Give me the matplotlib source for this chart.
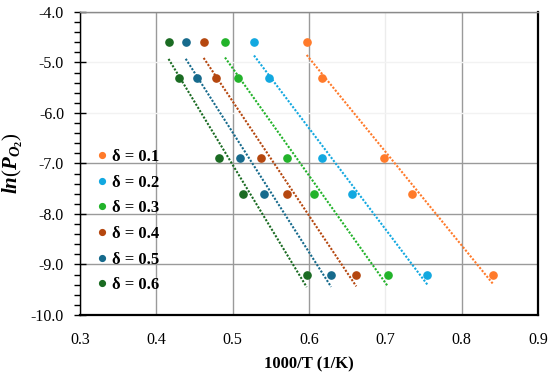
import numpy as np
import matplotlib
matplotlib.use("Agg")
import matplotlib.pyplot as plt
from matplotlib.ticker import MultipleLocator

plt.rcParams['font.family'] = ['Liberation Serif', 'DejaVu Serif']
plt.rcParams['mathtext.fontset'] = 'custom'
plt.rcParams['mathtext.rm'] = 'Liberation Serif'
plt.rcParams['mathtext.it'] = 'Liberation Serif:italic'
plt.rcParams['mathtext.bf'] = 'Liberation Serif:bold'
plt.rcParams['mathtext.bfit'] = 'Liberation Serif:bold:italic'

# Data
ln_po2 = [-4.6, -5.3, -6.9, -7.6, -9.2]
labels = ["δ = 0.1", "δ = 0.2", "δ = 0.3", "δ = 0.4", "δ = 0.5", "δ = 0.6"]
x_d01 = [0.597, 0.617, 0.698, 0.735, 0.841]
x_d02 = [0.528, 0.548, 0.617, 0.657, 0.755]
x_d03 = [0.490, 0.507, 0.571, 0.607, 0.703]
x_d04 = [0.462, 0.478, 0.537, 0.571, 0.662]
x_d05 = [0.4385, 0.453, 0.509, 0.541, 0.629]
x_d06 = [0.416, 0.430, 0.4825, 0.513, 0.597]
series_x = [x_d01, x_d02, x_d03, x_d04, x_d05, x_d06]
colors = ["#FF7A2A", "#12A8E0", "#22B32A", "#B5470F", "#166A8C", "#1A6B22"]

xticks = [0.3, 0.4, 0.5, 0.6, 0.7, 0.8, 0.9]
yticks = [-4.0, -5.0, -6.0, -7.0, -8.0, -9.0, -10.0]

fig = plt.figure(figsize=(5.5, 3.74), dpi=100)
ax = fig.add_axes([0.1455, 0.158, 0.8325, 0.81])

y = np.array(ln_po2)
for xs, c, lab in zip(series_x, colors, labels):
    xs = np.array(xs)
    ax.plot(xs, y, 'o', color=c, ms=5.2, label=lab, zorder=3)
    m, b = np.polyfit(xs, y, 1)
    xl = np.array([xs.min(), xs.max()])
    ax.plot(xl, m * xl + b, linestyle=(0, (1, 0.8)), color=c, lw=1.5, zorder=2)

ax.set_xlim(0.3, 0.9)
ax.set_ylim(-10.0, -4.0)
ax.set_xticks(xticks)
ax.set_xticklabels([f"{v:.1f}" for v in xticks])
ax.set_yticks(yticks)
ax.set_yticklabels([f"{v:.1f}" for v in yticks])
ax.yaxis.set_minor_locator(MultipleLocator(0.2))
ax.tick_params(axis='x', length=0, pad=12, labelsize=11.5)
ax.tick_params(axis='y', which='major', direction='inout', length=9, width=1, pad=7, labelsize=11.5)
ax.tick_params(axis='y', which='minor', direction='out', length=4, width=1)

ax.grid(True, which='major', color='#9a9a9a', lw=1.0, zorder=0)
for gl, v in zip(ax.get_xgridlines(), xticks):
    if abs(v - 0.7) < 1e-9:
        gl.set_color('#ececec')
for gl, v in zip(ax.get_ygridlines(), yticks):
    if v in (-5.0, -6.0):
        gl.set_color('#f2f2f2')
ax.set_axisbelow(True)

ax.spines['top'].set_color('#8a8a8a')
ax.spines['top'].set_linewidth(1.0)
ax.spines['left'].set_linewidth(1.0)
ax.spines['bottom'].set_linewidth(1.6)
ax.spines['right'].set_linewidth(1.6)

ax.set_xlabel("1000/T (1/K)", fontsize=12, fontweight='bold', labelpad=6)
ax.set_ylabel(r"$\mathbfit{ln}(\mathbfit{P}_{\mathbfit{O}_{\mathbf{2}}})$", fontsize=15, labelpad=4)

leg = ax.legend(loc='upper left', bbox_to_anchor=(0.036, 0.548), frameon=False,
                handlelength=0.6, handletextpad=0.35, borderpad=0, borderaxespad=0,
                labelspacing=0.58, markerscale=0.8,
                prop={'weight': 'bold', 'size': 12})

fig.savefig("out.png", dpi=100)
